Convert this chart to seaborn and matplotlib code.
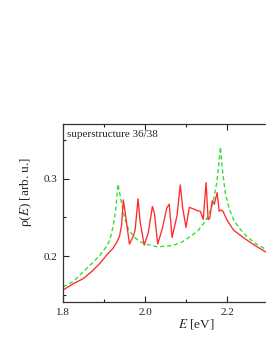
import numpy as np
import pandas as pd
import seaborn as sns
import matplotlib
matplotlib.use("Agg")
import matplotlib.pyplot as plt
from matplotlib.ticker import MultipleLocator

# ---- data ----
E_green = [1.800, 1.825, 1.850, 1.870, 1.890, 1.907, 1.915, 1.923, 1.929, 1.934, 1.938, 1.943,
           1.950, 1.960, 1.975, 1.988, 2.005, 2.029, 2.050, 2.070, 2.090, 2.110, 2.128,
           2.143, 2.155, 2.167, 2.175, 2.180, 2.184, 2.188, 2.196, 2.205, 2.216, 2.230,
           2.249, 2.270, 2.300]
rho_green = [0.160, 0.167, 0.180, 0.190, 0.201, 0.213, 0.222, 0.240, 0.262, 0.293, 0.282, 0.268,
             0.250, 0.234, 0.224, 0.2185, 0.215, 0.212, 0.2125, 0.214, 0.218, 0.225, 0.232,
             0.242, 0.252, 0.272, 0.295, 0.318, 0.341, 0.315, 0.281, 0.262, 0.247, 0.236,
             0.225, 0.216, 0.207]

E_red = [1.800, 1.825, 1.850, 1.870, 1.890, 1.907, 1.922, 1.931, 1.938, 1.943, 1.947, 1.952, 1.962,
         1.972, 1.976, 1.983, 1.988, 1.998, 2.008, 2.018, 2.023, 2.031, 2.042, 2.053,
         2.059, 2.066, 2.078, 2.086, 2.092, 2.100, 2.108, 2.118, 2.128, 2.135, 2.142,
         2.149, 2.154, 2.158, 2.164, 2.169, 2.176, 2.181, 2.186, 2.190, 2.200, 2.216,
         2.232, 2.249, 2.270, 2.300]
rho_red = [0.156, 0.164, 0.171, 0.180, 0.1905, 0.2015, 0.210, 0.2175, 0.226, 0.240, 0.2725, 0.255, 0.2155,
           0.226, 0.234, 0.274, 0.245, 0.214, 0.230, 0.264, 0.255, 0.2155, 0.235, 0.262,
           0.267, 0.224, 0.252, 0.292, 0.262, 0.237, 0.263, 0.261, 0.2585, 0.258, 0.2475,
           0.295, 0.247, 0.249, 0.2715, 0.267, 0.282, 0.258, 0.2595, 0.258, 0.2465, 0.2335,
           0.227, 0.2205, 0.213, 0.2035]

x_ticks = [1.8, 2.0, 2.2]
x_ticklabels = ["1.8", "2.0", "2.2"]
y_ticks = [0.2, 0.3]
y_ticklabels = ["0.2", "0.3"]

sns.set_theme(style="ticks")
plt.rcParams["font.family"] = ["Liberation Serif", "DejaVu Serif"]
plt.rcParams["mathtext.fontset"] = "stix"

df_g = pd.DataFrame({"E": E_green, "rho": rho_green})
df_r = pd.DataFrame({"E": E_red, "rho": rho_red})

fig = plt.figure(figsize=(2.66, 3.44), dpi=100)
ax = fig.add_axes([63 / 266, 42 / 344, 205 / 266, 178 / 344])

sns.lineplot(data=df_g, x="E", y="rho", ax=ax, sort=False, color="#33e033",
             lw=1.0, linestyle=(0, (3, 2)))
sns.lineplot(data=df_r, x="E", y="rho", ax=ax, sort=False, color="#ff2a2a", lw=0.95)

ax.set_xlim(1.8, 2.3)
ax.set_ylim(0.1405, 0.3708)
ax.set_xticks(x_ticks)
ax.set_xticklabels(x_ticklabels)
ax.set_yticks(y_ticks)
ax.set_yticklabels(y_ticklabels)
ax.xaxis.set_minor_locator(MultipleLocator(0.1))
ax.yaxis.set_minor_locator(MultipleLocator(0.05))
ax.tick_params(which="both", direction="in", top=True, right=False, labelsize=8,
               width=0.8, colors="#222222")
ax.tick_params(which="major", length=4, pad=4)
ax.tick_params(which="minor", length=2.5)
for s in ["left", "top", "bottom"]:
    ax.spines[s].set_linewidth(0.9)
    ax.spines[s].set_color("#333333")
ax.spines["right"].set_visible(False)

ax.set_xlabel("$E$ [eV]", fontsize=9.5)
ax.set_ylabel("ρ($E$) [arb. u.]", fontsize=9.5)
ax.xaxis.set_label_coords((196 - 63) / 205, -0.085)
ax.yaxis.set_label_coords(-0.14, 0.62)

ax.text(0.02, 0.965, "superstructure 36/38", transform=ax.transAxes,
        fontsize=8, va="top", ha="left")

fig.savefig("out.png", dpi=100)
